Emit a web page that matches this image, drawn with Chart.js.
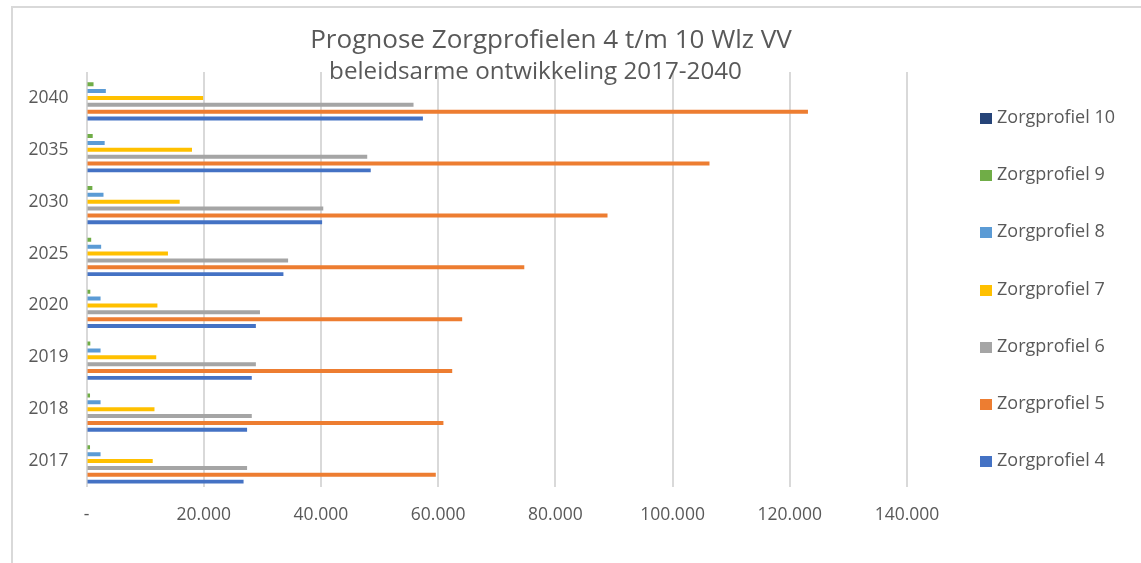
<!DOCTYPE html>
<html>
<head>
<meta charset="utf-8">
<script src="https://cdn.jsdelivr.net/npm/chart.js@4"></script>
<style>
  html, body { margin: 0; padding: 0; background: #fff; }
  #wrap { position: relative; width: 1141px; height: 563px; overflow: hidden; }
  #frame { position: absolute; left: 11px; top: 6px; right: -10px; bottom: -10px; border-left: 2px solid #d9d9d9; border-top: 2px solid #d9d9d9; }
  canvas { position: absolute; left: 0; top: 0; }
  #legend { position: absolute; left: 980px; top: 0; font-family: "Open Sans", sans-serif; font-size: 18px; color: #595959; }
  .li { position: absolute; left: 0; white-space: nowrap; height: 24px; line-height: 24px; }
  .sw { display: inline-block; width: 12px; height: 11px; margin-right: 5px; vertical-align: -1px; }
</style>
</head>
<body>
<div id="wrap">
  <div id="frame"></div>
  <canvas id="c" width="1141" height="563"></canvas>
  <div id="legend"></div>
</div>
<script>
const years = ['2017', '2018', '2019', '2020', '2025', '2030', '2035', '2040'];
const zp4  = [26800, 27400, 28200, 28900, 33600, 40200, 48500, 57400];
const zp5  = [59600, 60900, 62400, 64100, 74700, 88900, 106300, 123100];
const zp6  = [27400, 28200, 28900, 29600, 34400, 40400, 47900, 55800];
const zp7  = [11300, 11600, 11900, 12100, 13900, 15900, 18000, 19900];
const zp8  = [2400, 2400, 2400, 2400, 2500, 2900, 3100, 3300];
const zp9  = [600, 600, 650, 650, 800, 1000, 1060, 1200];
const zp10 = [0, 0, 0, 0, 0, 0, 0, 0];
const seriesNames = ['Zorgprofiel 10', 'Zorgprofiel 9', 'Zorgprofiel 8', 'Zorgprofiel 7', 'Zorgprofiel 6', 'Zorgprofiel 5', 'Zorgprofiel 4'];
const seriesColors = ['#264478', '#70AD47', '#5B9BD5', '#FFC000', '#A5A5A5', '#ED7D31', '#4472C4'];
const seriesData = [zp10, zp9, zp8, zp7, zp6, zp5, zp4];
const xTicks = [0, 20000, 40000, 60000, 80000, 100000, 120000, 140000];
const titleText = 'Prognose Zorgprofielen 4 t/m 10 Wlz VV';
const subtitleText = 'beleidsarme ontwikkeling 2017-2040';

const FONT = '"Open Sans", sans-serif';

function fmt(v) {
  if (v === 0) return '-';
  return String(v).replace(/\B(?=(\d{3})+(?!\d))/g, '.');
}

const titlePlugin = {
  id: 'customTitle',
  afterDraw(chart) {
    const ctx = chart.ctx;
    ctx.save();
    ctx.fillStyle = '#595959';
    ctx.textAlign = 'center';
    ctx.textBaseline = 'middle';
    const fit = (txt, w) => {
      ctx.font = '100px ' + FONT;
      return 100 * w / ctx.measureText(txt).width;
    };
    let s = fit(titleText, 482);
    ctx.font = s + 'px ' + FONT;
    ctx.fillText(titleText, 551, 41);
    s = fit(subtitleText, 413);
    ctx.font = s + 'px ' + FONT;
    ctx.fillText(subtitleText, 535.5, 72);
    ctx.restore();
  }
};

const datasets = seriesNames.map((n, i) => ({
  label: n,
  data: seriesData[i],
  backgroundColor: seriesColors[i],
  borderWidth: 0,
  barPercentage: 0.58,
  categoryPercentage: 0.925
}));

new Chart(document.getElementById('c'), {
  type: 'bar',
  data: { labels: years, datasets },
  options: {
    indexAxis: 'y',
    responsive: false,
    animation: false,
    layout: { padding: { left: 0, right: 234, top: 72, bottom: 36 } },
    plugins: {
      legend: { display: false },
      title: { display: false },
      tooltip: { enabled: false }
    },
    scales: {
      x: {
        min: 0, max: 140000,
        afterBuildTicks(scale) { scale.ticks = xTicks.map(v => ({ value: v })); },
        afterFit(scale) { scale.height = 40; },
        grid: { color: '#d9d9d9', lineWidth: 2, drawTicks: false },
        border: { display: false },
        ticks: { padding: 18, color: '#595959', font: { family: FONT, size: 17.5 }, callback: (v) => fmt(v), maxRotation: 0 }
      },
      y: {
        reverse: true,
        afterFit(scale) { scale.width = 86.5; },
        grid: { display: false, drawTicks: false },
        border: { display: false },
        ticks: { padding: 18, color: '#595959', font: { family: FONT, size: 17.5 } }
      }
    }
  },
  plugins: [titlePlugin]
});

const leg = document.getElementById('legend');
seriesNames.forEach((n, i) => {
  const d = document.createElement('div');
  d.className = 'li';
  d.style.top = (116 + i * 57.2 - 12) + 'px';
  d.innerHTML = '<span class="sw" style="background:' + seriesColors[i] + '"></span>' + n;
  leg.appendChild(d);
});
</script>
</body>
</html>
